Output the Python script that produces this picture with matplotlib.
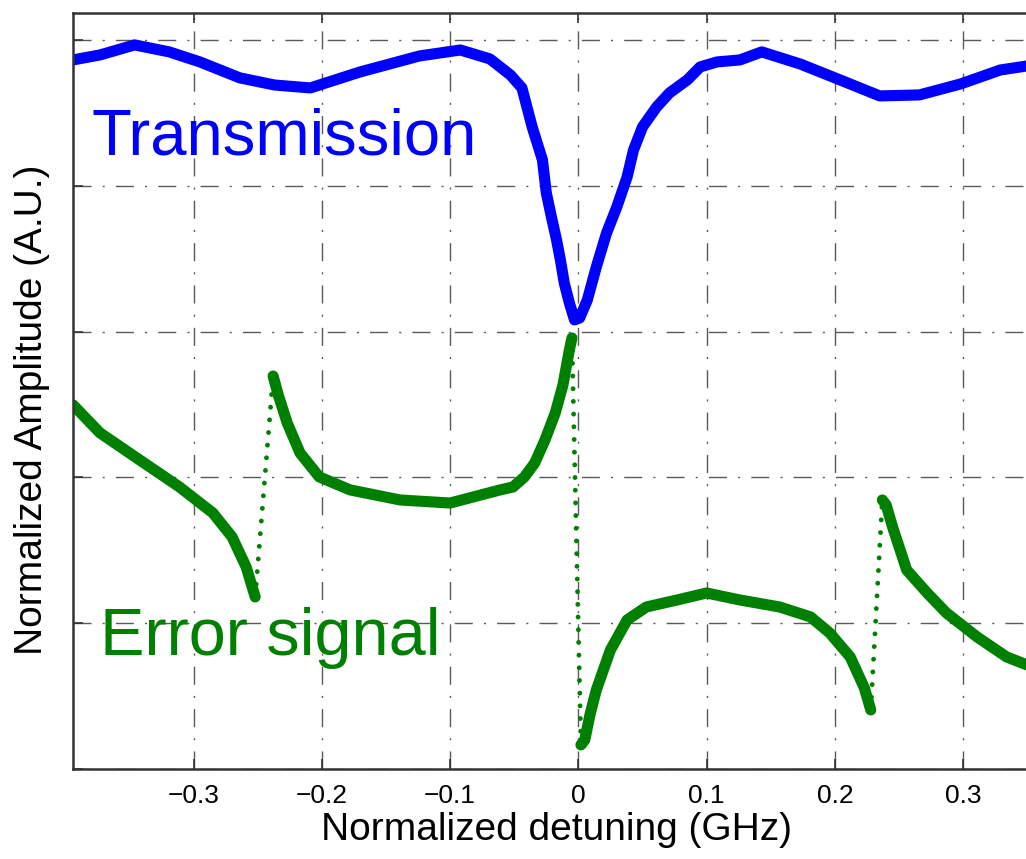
import matplotlib
matplotlib.use("Agg")
import matplotlib.pyplot as plt

plt.rcParams['font.family'] = ['Liberation Sans', 'DejaVu Sans']

# transmission trace (normalized detuning in GHz, amplitude in A.U.)
trans_x = [-0.394, -0.373, -0.346, -0.319, -0.295, -0.264, -0.237, -0.209, -0.170,
           -0.124, -0.092, -0.069, -0.053, -0.044, -0.036, -0.028, -0.025, -0.021,
           -0.017, -0.014, -0.011, -0.007, -0.003, 0.001, 0.007, 0.014, 0.022, 0.030,
           0.038, 0.043, 0.050, 0.061, 0.071, 0.085, 0.095, 0.108, 0.126, 0.143,
           0.173, 0.204, 0.235, 0.266, 0.298, 0.329, 0.360]
trans_y = [4.863, 4.897, 4.966, 4.918, 4.849, 4.740, 4.691, 4.671, 4.781,
           4.890, 4.931, 4.870, 4.760, 4.671, 4.403, 4.177, 3.951, 3.786,
           3.628, 3.491, 3.333, 3.196, 3.080, 3.093, 3.217, 3.443, 3.676, 3.855,
           4.060, 4.245, 4.403, 4.540, 4.636, 4.726, 4.815, 4.849, 4.863, 4.918,
           4.835, 4.726, 4.616, 4.623, 4.698, 4.794, 4.835]

# error signal trace
err_x = [-0.394, -0.373, -0.342, -0.311, -0.285, -0.270, -0.259, -0.252,
         -0.238, -0.234, -0.227, -0.217, -0.202, -0.178, -0.139, -0.100, -0.061,
         -0.051, -0.042, -0.034, -0.026, -0.018, -0.012, -0.007, -0.005,
         0.002, 0.005, 0.009, 0.014, 0.025, 0.038, 0.053, 0.077, 0.100, 0.126,
         0.157, 0.181, 0.196, 0.212, 0.223, 0.228,
         0.237, 0.240, 0.245, 0.256, 0.272, 0.287, 0.311, 0.334, 0.360]
err_y = [2.497, 2.305, 2.119, 1.934, 1.756, 1.591, 1.385, 1.180,
         2.695, 2.565, 2.373, 2.167, 2.003, 1.914, 1.845, 1.824, 1.914,
         1.934, 2.003, 2.099, 2.257, 2.442, 2.634, 2.874, 2.956,
         0.165, 0.199, 0.370, 0.542, 0.816, 1.022, 1.111, 1.159, 1.207, 1.159,
         1.111, 1.043, 0.933, 0.768, 0.556, 0.405,
         1.845, 1.811, 1.660, 1.365, 1.207, 1.070, 0.905, 0.768, 0.679]
# steps i -> i+1 where the sweep is fast and only a few samples land
fast_idx = [7, 24, 40]

xticks = [-0.3, -0.2, -0.1, 0.0, 0.1, 0.2, 0.3]
xtick_labels = ['\u22120.3', '\u22120.2', '\u22120.1', '0', '0.1', '0.2', '0.3']
yticks = [0, 1, 2, 3, 4, 5]

blue = '#0000ff'
green = '#008000'

fig = plt.figure(figsize=(10.26, 8.59), dpi=100)
ax = fig.add_axes([0.0712, 0.1048, 0.9425, 0.8801])

ax.plot(trans_x, trans_y, color=blue, lw=8, solid_capstyle='round',
        solid_joinstyle='round')

starts = [0] + [i + 1 for i in fast_idx]
ends = [i + 1 for i in fast_idx] + [len(err_x)]
for s, e in zip(starts, ends):
    ax.plot(err_x[s:e], err_y[s:e], color=green, lw=8, solid_capstyle='round',
            solid_joinstyle='round')
for i in fast_idx:
    ax.plot(err_x[i:i + 2], err_y[i:i + 2], color=green, lw=3.5,
            linestyle=(0, (0.01, 2.6)), dash_capstyle='round')

ax.text(-0.3795, 4.211, 'Transmission', color=blue, fontsize=47,
        ha='left', va='baseline')
ax.text(-0.373, 0.782, 'Error signal', color=green, fontsize=48,
        ha='left', va='baseline')

ax.set_xlim(-0.394, 0.360)
ax.set_ylim(0, 5.185)
ax.set_xticks(xticks)
ax.set_xticklabels(xtick_labels)
ax.set_yticks(yticks)
ax.set_yticklabels([])
ax.tick_params(axis='both', direction='in', length=7, width=1.2, color='#333333',
               top=True, labelsize=19, pad=11)

ax.set_axisbelow(True)
ax.grid(True, color='#5a5a5a', lw=1.0, linestyle=(0, (13, 8, 1.5, 8)))

for side in ['left', 'bottom', 'top']:
    ax.spines[side].set_color('#333333')
    ax.spines[side].set_linewidth(1.8)

ax.set_xlabel('Normalized detuning (GHz)', fontsize=28, labelpad=3)
ax.set_ylabel('Normalized Amplitude (A.U.)', fontsize=28)
ax.yaxis.set_label_coords(-0.024, 0.475)

fig.savefig('out.png', dpi=100)
